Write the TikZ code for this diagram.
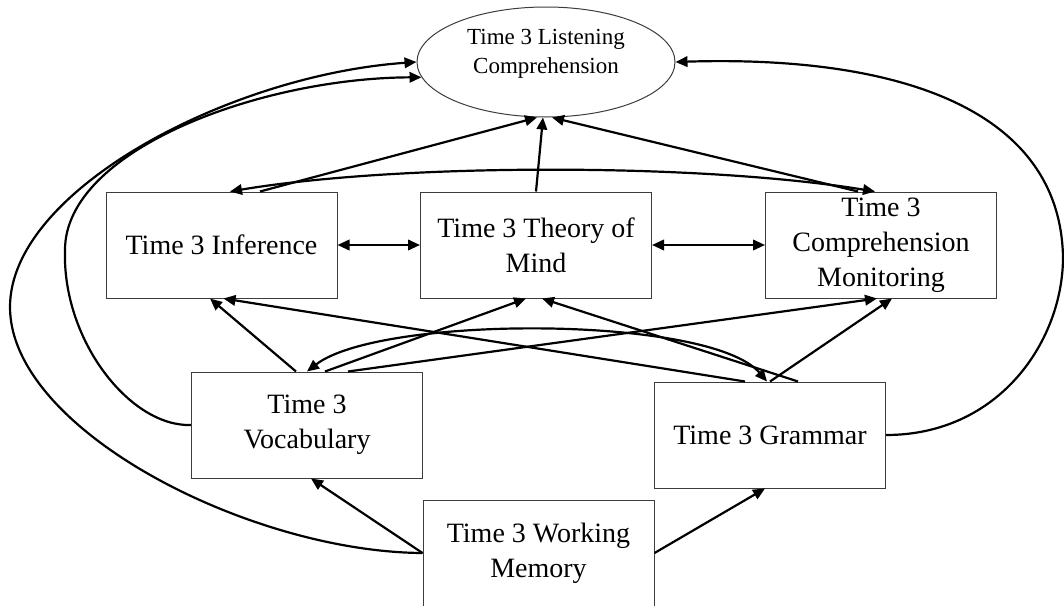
\documentclass[tikz,border=0pt]{standalone}
\usepackage{fontspec}
\setmainfont{Liberation Serif}
\usetikzlibrary{arrows.meta,shapes.geometric}

\tikzset{
  varbox/.style={draw={rgb,255:red,60;green,60;blue,60}, line width=1pt, fill=white,
    minimum width=231pt, minimum height=106pt, inner sep=0pt, align=center,
    font=\fontsize{28}{35}\selectfont},
  outcome/.style={ellipse, draw={rgb,255:red,60;green,60;blue,60}, line width=1pt,
    minimum width=258pt, minimum height=110pt, inner sep=0pt},
  outcometext/.style={align=center, inner sep=0pt, font=\fontsize{23}{29}\selectfont},
  tip/.tip={Triangle[length=12pt,width=10.5pt]},
  arr/.style={line width=2.2pt, -tip},
  biarr/.style={line width=2.2pt, tip-tip}
}

\begin{document}
\begin{tikzpicture}[x=1pt, y=-1pt]
\useasboundingbox (0,0) rectangle (1064,605);

% outcome
\node[outcome] (lc) at (546,62) {};
\node[outcometext] (lct) at (546,54) {Time 3 Listening\\Comprehension};

% mediators
\node[varbox] (inf) at (221.5,245) {Time 3 Inference};
\node[varbox] (tom) at (536,245) {Time 3 Theory of\\Mind};
\node[varbox] (cm)  at (881,245) {Time 3\\Comprehension\\Monitoring};

% language skills
\node[varbox] (voc) at (307,425) {Time 3\\Vocabulary};
\node[varbox] (gra) at (770,435) {Time 3 Grammar};

% working memory
\node[varbox] (wm) at (538.5,553) {Time 3 Working\\Memory};

% mediators -> listening comprehension
\draw[arr] ([xshift=38.5pt]inf.north) -- ([xshift=-9pt]lc.south);
\draw[arr] (tom.north) -- ([xshift=-3pt]lc.south);
\draw[arr] ([xshift=-23pt]cm.north) -- ([xshift=6pt]lc.south);

% correlations among mediators
\draw[biarr] ([xshift=8.5pt]inf.north) .. controls (400,163) and (700,163) .. ([xshift=-6pt]cm.north);
\draw[biarr] (inf.east) -- (tom.west);
\draw[biarr] (tom.east) -- (cm.west);

% language skills -> mediators
\draw[arr] ([xshift=-11pt]voc.north) -- ([xshift=-11.5pt]inf.south);
\draw[arr] ([xshift=18pt]voc.north) -- ([xshift=-10pt]tom.south);
\draw[arr] ([xshift=41pt]voc.north) -- ([xshift=-4pt]cm.south);
\draw[arr] ([xshift=-25pt]gra.north) -- ([xshift=2pt]inf.south);
\draw[arr] ([xshift=28pt]gra.north) -- ([xshift=6pt]tom.south);
\draw[arr] (gra.north) -- ([xshift=11pt]cm.south);

% vocabulary <-> grammar
\draw[biarr] (voc.north) .. controls (380,315) and (710,315) .. ([xshift=-3pt]gra.north);

% working memory -> language skills
\draw[arr] (wm.west) -- ([xshift=4pt]voc.south);
\draw[arr] (wm.east) -- ([xshift=-5pt]gra.south);

% direct paths to listening comprehension
\draw[arr] (wm.west) .. controls (250,552) and (10,430) .. (10,307)
  .. controls (10,190) and (230,75) .. (lc.west);
\draw[arr] (voc.west) .. controls (130,427) and (62,340) .. (65,250)
  .. controls (65,150) and (260,78) .. (lc.187);
\draw[arr] (gra.east) .. controls (1000,435) and (1063,340) .. (1063,257)
  .. controls (1060,110) and (900,55) .. (lc.east);
\end{tikzpicture}
\end{document}
